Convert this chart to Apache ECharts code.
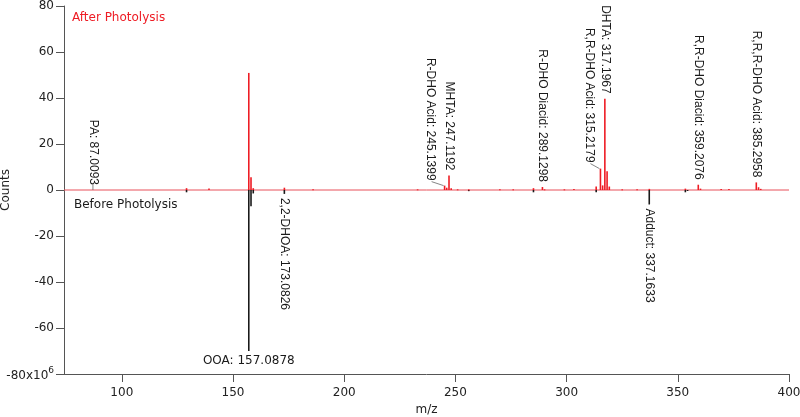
<!DOCTYPE html>
<html><head><meta charset="utf-8">
<script src="https://cdn.jsdelivr.net/npm/echarts@6/dist/echarts.min.js"></script>
<style>html,body{margin:0;padding:0;background:#fff}#c{width:800px;height:417px}</style>
</head><body><div id="c"></div>
<script>
// ---- data (counts in units of 10^6) ----
const afterMz     = [129.1, 139.2, 157.0878, 158.09, 159.1, 173.1, 186.0, 233.0, 245.1399, 246.1, 247.1192, 248.1, 251.0, 256.0, 270.0, 276.0, 285.1, 289.1298, 290.1, 299.0, 303.3, 313.3, 315.2179, 316.2, 317.1967, 318.2, 319.2, 325.0, 331.7, 337.2, 353.4, 359.2076, 360.2, 369.5, 373.0, 385.2958, 386.3, 387.3];
const afterCounts = [0.8,   0.6,   50.9,     5.5,    0.8,   1.0,   0.3,   0.3,   1.9,      1.0,   6.3,      0.8,   0.3,   0.3,   0.3,   0.3,   0.8,   1.3,      0.3,   0.3,   0.4,   1.5,   9.3,      2.0,   39.7,     8.1,   1.5,   0.3,   0.3,   0.5,   0.6,   2.3,      0.6,   0.4,   0.4,   3.3,      1.2,   0.5];
const beforeMz     = [129.1, 157.0878, 158.09, 159.1, 173.0826, 256.0, 285.1, 313.3, 337.1633, 353.4, 354.4];
const beforeCounts = [-1.0,  -70.0,    -7.1,   -1.5,  -1.7,     -0.5,  -1.0,  -1.0,  -6.3,     -1.0,  -0.4];

const annText = ['PA: 87.0093', 'OOA: 157.0878', '2,2-DHOA: 173.0826', 'R-DHO Acid: 245.1399', 'MHTA: 247.1192', 'R-DHO Diacid: 289.1298', 'R,R-DHO Acid: 315.2179', 'DHTA: 317.1967', 'Adduct: 337.1633', 'R,R-DHO Diacid: 359.2076', 'R,R,R-DHO Acid: 385.2958'];
const annMz   = [87.0093, 157.0878, 173.0826, 245.1399, 247.1192, 289.1298, 315.2179, 317.1967, 337.1633, 359.2076, 385.2958];
const annTip  = [0, -70.0, -1.7, 1.9, 6.3, 1.3, 9.3, 39.7, -6.3, 2.3, 3.3];

const xTicks = [100, 150, 200, 250, 300, 350, 400];
const yTicks = [-80, -60, -40, -20, 0, 20, 40, 60, 80];
const xRange = [74, 400];
const yRange = [-80, 80];
const seriesNames = ['After Photolysis', 'Before Photolysis'];

// ---- styling / layout ----
const RED = '#ee1c24', BLACK = '#1a1a1a', AXIS = '#555';
const LUC = '"DejaVu Sans", "Lucida Grande", sans-serif';
const HEL = '"Liberation Sans", Arial, Helvetica, sans-serif';
const annLayout = {
  'PA: 87.0093': {stub: true},
  'OOA: 157.0878': {horizontal: true},
  'R-DHO Acid: 245.1399': {dx: -14, dy: 0},
  'R,R-DHO Acid: 315.2179': {dx: -11, dy: -1}
};

function barRenderer(color) {
  return function (params, api) {
    const m = api.value(0), v = api.value(1);
    const p0 = api.coord([m, 0]);
    const p1 = api.coord([m, v]);
    const w = 1.6;
    return {
      type: 'rect',
      shape: {x: p0[0] - w / 2, y: Math.min(p0[1], p1[1]), width: w, height: Math.max(1, Math.abs(p1[1] - p0[1]))},
      style: {fill: color}
    };
  };
}

function annRenderer(params, api) {
  const i = params.dataIndex;
  const text = annText[i];
  const m = api.value(0), tip = api.value(1);
  const p = api.coord([m, tip]);
  const st = annLayout[text] || {};
  const children = [];
  if (st.horizontal) {
    children.push({type: 'text', x: p[0], y: p[1] + 4,
      style: {text, fill: BLACK, font: '12px ' + LUC, align: 'center', verticalAlign: 'top'}});
  } else if (tip < 0) {
    children.push({type: 'text', x: p[0], y: p[1] + 4, rotation: -Math.PI / 2,
      style: {text, fill: BLACK, font: '12px ' + HEL, align: 'left', verticalAlign: 'middle'}});
  } else {
    const dx = st.dx || 0, dy = st.dy || 0;
    const tx = p[0] + dx, ty = p[1] - 5 + dy;
    if (dx) children.push({type: 'line', shape: {x1: tx + 1, y1: ty + 1, x2: p[0] - 1, y2: p[1]}, style: {stroke: '#666', lineWidth: 0.8}});
    if (st.stub) children.push({type: 'line', shape: {x1: p[0], y1: p[1], x2: p[0], y2: ty}, style: {stroke: '#666', lineWidth: 0.8}});
    children.push({type: 'text', x: tx, y: ty, rotation: -Math.PI / 2,
      style: {text, fill: BLACK, font: '12px ' + HEL, align: 'right', verticalAlign: 'middle'}});
  }
  return {type: 'group', children};
}

const chart = echarts.init(document.getElementById('c'), null, {renderer: 'canvas'});
chart.setOption({
  animation: false,
  backgroundColor: '#fff',
  grid: {left: 64, right: 11, top: 6, bottom: 43, containLabel: false, outerBoundsMode: 'none'},
  xAxis: {
    type: 'value', min: xRange[0], max: xRange[1],
    name: 'm/z', nameLocation: 'middle', nameGap: 30, nameMoveOverlap: false,
    nameTextStyle: {fontFamily: LUC, fontSize: 12, color: '#222'},
    axisLine: {show: true, onZero: false, lineStyle: {color: AXIS, width: 1}},
    axisTick: {show: true, length: 8, customValues: xTicks, lineStyle: {color: AXIS}},
    axisLabel: {customValues: xTicks, margin: 13, fontFamily: LUC, fontSize: 12, color: '#222'},
    splitLine: {show: false}
  },
  yAxis: {
    type: 'value', min: yRange[0], max: yRange[1], interval: 20,
    name: 'Counts', nameLocation: 'middle', nameGap: 52, nameRotate: 90, nameMoveOverlap: false,
    nameTextStyle: {fontFamily: LUC, fontSize: 12, color: '#222'},
    axisLine: {show: true, onZero: false, lineStyle: {color: AXIS, width: 1}},
    axisTick: {show: true, length: 8, lineStyle: {color: AXIS}},
    axisLabel: {
      margin: 10, fontFamily: LUC, fontSize: 12, color: '#222',
      formatter: v => v === yTicks[0] ? '{b|' + v + 'x10}{s|6}' : String(v),
      rich: {
        b: {fontFamily: LUC, fontSize: 12, color: '#222', lineHeight: 16, verticalAlign: 'bottom'},
        s: {fontFamily: LUC, fontSize: 9, color: '#222', lineHeight: 9, verticalAlign: 'top'}
      }
    },
    splitLine: {show: false}
  },
  graphic: [
    {type: 'text', left: 72, top: 12, style: {text: seriesNames[0], fill: RED, font: '12px ' + LUC}},
    {type: 'text', left: 74, top: 199, style: {text: seriesNames[1], fill: BLACK, font: '12px ' + LUC}}
  ],
  series: [
    {type: 'line', name: 'baseline', data: [[xRange[0], 0], [xRange[1], 0]], symbol: 'none',
      lineStyle: {color: '#e8505a', width: 1}, z: 1, silent: true},
    {type: 'custom', name: seriesNames[1], data: beforeMz.map((m, i) => [m, beforeCounts[i]]),
      encode: {x: 0, y: 1}, renderItem: barRenderer(BLACK), z: 2, clip: true},
    {type: 'custom', name: seriesNames[0], data: afterMz.map((m, i) => [m, afterCounts[i]]),
      encode: {x: 0, y: 1}, renderItem: barRenderer(RED), z: 3, clip: true},
    {type: 'custom', name: 'labels', data: annMz.map((m, i) => [m, annTip[i]]),
      encode: {x: 0, y: 1}, renderItem: annRenderer, z: 4, clip: false, silent: true}
  ]
});
</script>
</body></html>
